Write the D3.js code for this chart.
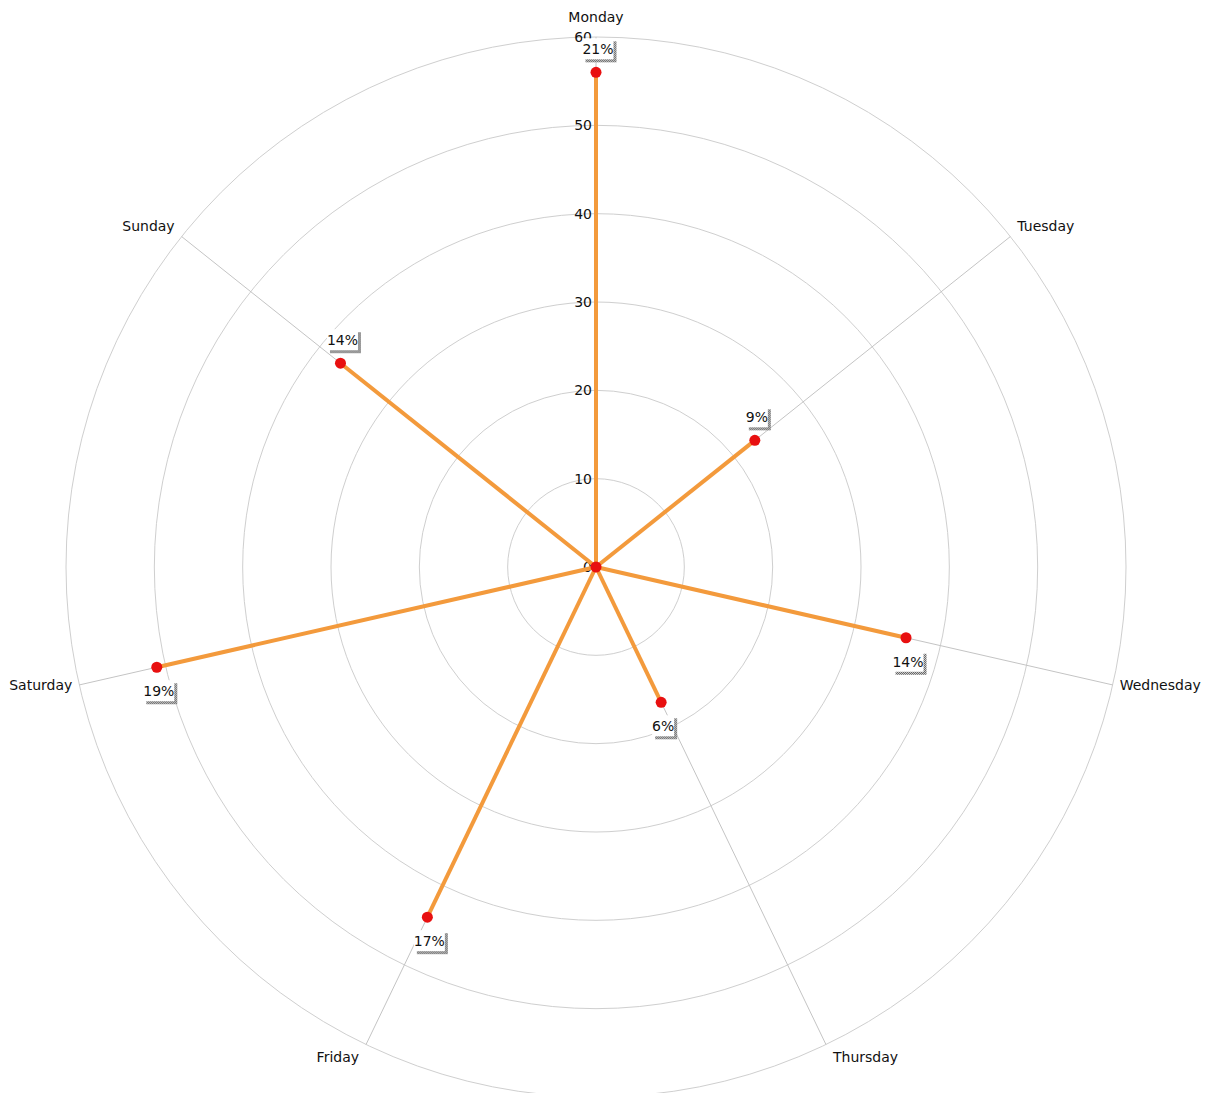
<!DOCTYPE html>
<html>
<head>
<meta charset="utf-8">
<script src="https://cdn.jsdelivr.net/npm/d3@7"></script>
<style>
  html, body { margin: 0; padding: 0; background: #fff; }
  text { font-family: "DejaVu Sans", sans-serif; font-size: 14px; fill: #111; }
</style>
</head>
<body>
<div id="chart"></div>
<script>
const days = ["Monday", "Tuesday", "Wednesday", "Thursday", "Friday", "Saturday", "Sunday"];
const values = [56, 23, 36, 17, 44, 51, 37];
const radialTicks = [0, 10, 20, 30, 40, 50, 60];

const width = 1209, height = 1093;
const cx = 596, cy = 567, outer = 530;

const r = d3.scaleLinear().domain([0, 60]).range([0, outer]);
const angle = d3.scaleBand().domain(days).range([0, 2 * Math.PI]).paddingInner(0).align(0);
const total = d3.sum(values);

const pos = (day, v) => {
  const a = angle(day);
  return [Math.sin(a) * r(v), -Math.cos(a) * r(v)];
};

const svg = d3.select("#chart").append("svg")
  .attr("width", width).attr("height", height);

/* hatched shadow for value labels */
const pat = svg.append("defs").append("pattern")
  .attr("id", "hatch").attr("width", 2).attr("height", 2)
  .attr("patternUnits", "userSpaceOnUse");
pat.append("rect").attr("width", 2).attr("height", 2).attr("fill", "#fff");
pat.append("rect").attr("width", 1).attr("height", 1).attr("fill", "#333");
pat.append("rect").attr("x", 1).attr("y", 1).attr("width", 1).attr("height", 1).attr("fill", "#333");

const g = svg.append("g").attr("transform", `translate(${cx},${cy})`);

/* rings */
g.selectAll("circle.ring").data(radialTicks.slice(1)).join("circle")
  .attr("class", "ring")
  .attr("r", d => r(d))
  .attr("fill", "none").attr("stroke", "#cfcfcf").attr("stroke-width", 1);

/* spokes */
g.selectAll("line.spoke").data(days).join("line")
  .attr("class", "spoke")
  .attr("x1", 0).attr("y1", 0)
  .attr("x2", d => pos(d, 60)[0]).attr("y2", d => pos(d, 60)[1])
  .attr("stroke", "#c4c4c4").attr("stroke-width", 1);

/* day labels */
g.selectAll("text.day").data(days).join("text")
  .attr("class", "day")
  .each(function (d) {
    const a = angle(d), s = Math.sin(a), c = Math.cos(a);
    const [x, y] = pos(d, 60);
    let anchor = "middle", dx = 0;
    if (s > 0.1) { anchor = "start"; dx = 7; }
    else if (s < -0.1) { anchor = "end"; dx = -7; }
    let dy;
    if (c > 0.9) dy = -15;
    else if (c > 0.3) dy = -6;
    else if (c > -0.5) dy = 5;
    else dy = 17;
    d3.select(this)
      .attr("x", x + dx).attr("y", y + dy)
      .attr("text-anchor", anchor)
      .text(d);
  });

/* radial tick labels */
g.selectAll("text.tick").data(radialTicks).join("text")
  .attr("class", "tick")
  .attr("x", -4).attr("y", d => -r(d) + 5)
  .attr("text-anchor", "end")
  .text(d => d);

/* value lines */
g.selectAll("line.val").data(days).join("line")
  .attr("class", "val")
  .attr("x1", 0).attr("y1", 0)
  .attr("x2", (d, i) => pos(d, values[i])[0])
  .attr("y2", (d, i) => pos(d, values[i])[1])
  .attr("stroke", "#f39a3c").attr("stroke-width", 4);

/* points */
g.append("circle").attr("r", 5.5).attr("fill", "#e81010");
g.selectAll("circle.pt").data(days).join("circle")
  .attr("class", "pt")
  .attr("cx", (d, i) => pos(d, values[i])[0])
  .attr("cy", (d, i) => pos(d, values[i])[1])
  .attr("r", 5.5).attr("fill", "#e81010");

/* percentage labels */
const lbl = g.selectAll("g.lbl").data(days).join("g")
  .attr("class", "lbl")
  .attr("transform", (d, i) => {
    const [x, y] = pos(d, values[i]);
    const up = Math.cos(angle(d)) > 0;
    return `translate(${x + 2},${y + (up ? -24 : 23)})`;
  });
lbl.each(function (d, i) {
  const el = d3.select(this);
  const t = Math.round(values[i] / total * 100) + "%";
  const w = t.length * 9 + 4;
  el.append("rect").attr("x", -w / 2 + 3).attr("y", -10 + 3)
    .attr("width", w).attr("height", 21).attr("fill", "url(#hatch)");
  el.append("rect").attr("x", -w / 2).attr("y", -10)
    .attr("width", w).attr("height", 21).attr("fill", "#fff");
  el.append("text").attr("text-anchor", "middle").attr("y", 6).text(t);
});
</script>
</body>
</html>
